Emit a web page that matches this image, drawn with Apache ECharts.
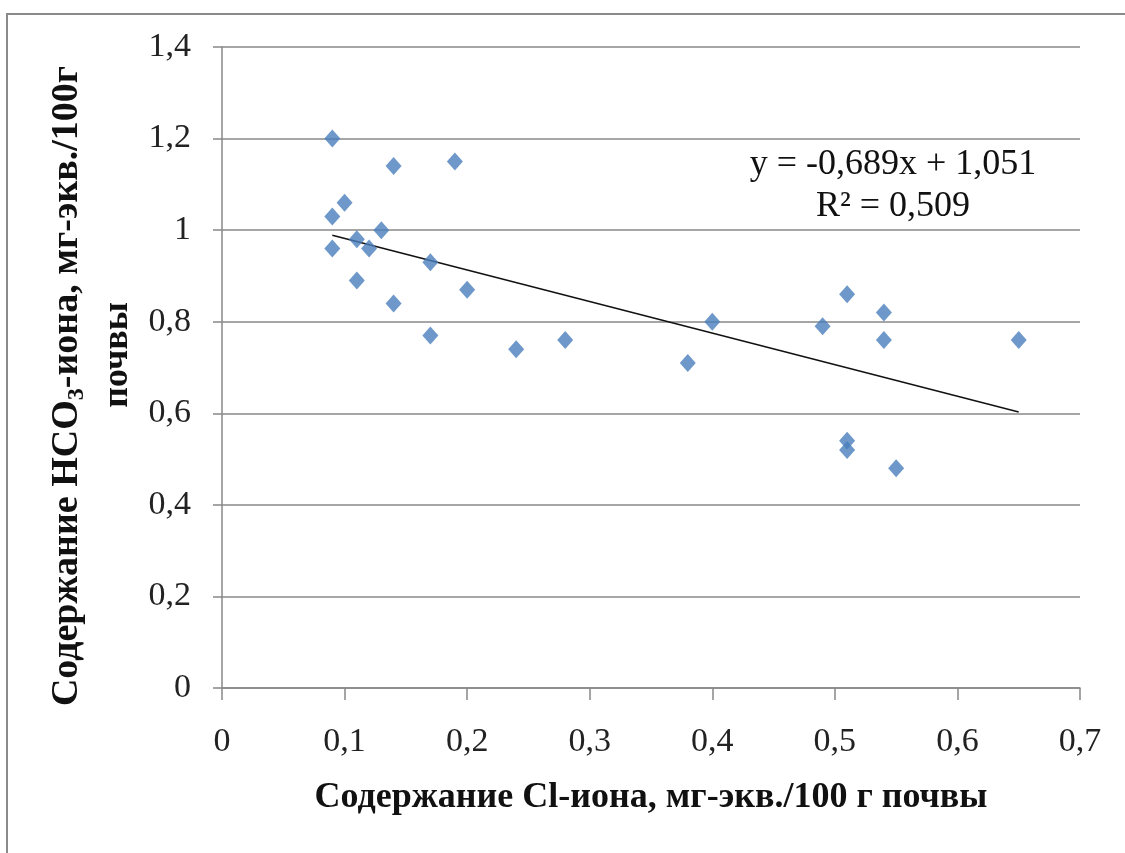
<!DOCTYPE html>
<html><head><meta charset="utf-8">
<script src="https://cdn.jsdelivr.net/npm/echarts@6/dist/echarts.min.js"></script>
<style>html,body{margin:0;padding:0;background:#fff}#c{width:1125px;height:853px}</style>
</head><body><div id="c"></div>
<script>
const xValues = [0.09,0.09,0.09,0.10,0.11,0.11,0.12,0.13,0.14,0.14,0.17,0.17,0.19,0.20,0.24,0.28,0.38,0.40,0.49,0.51,0.51,0.51,0.54,0.54,0.55,0.65];
const yValues = [1.20,1.03,0.96,1.06,0.98,0.89,0.96,1.00,1.14,0.84,0.93,0.77,1.15,0.87,0.74,0.76,0.71,0.80,0.79,0.86,0.54,0.52,0.82,0.76,0.48,0.76];
const trendX = [0.09, 0.65];
const trendY = [0.989, 0.603];
const xTickLabels = ['0','0,1','0,2','0,3','0,4','0,5','0,6','0,7'];
const yTickLabels = ['0','0,2','0,4','0,6','0,8','1','1,2','1,4'];
const xTitle = 'Содержание Cl-иона, мг-экв./100 г почвы';
const yTitleA = 'Содержание HCO';
const yTitleSub = '3';
const yTitleB = '-иона, мг-экв./100г';
const yTitleLine2 = 'почвы';
const equationText = 'y = -0,689x + 1,051';
const r2Text = 'R² = 0,509';

const serif = '"Liberation Serif", "Times New Roman", serif';
const chart = echarts.init(document.getElementById('c'), null, {renderer:'canvas'});
chart.setOption({
  animation:false,
  backgroundColor:'#fff',
  grid:{left:222,right:45,top:47,bottom:165},
  xAxis:{
    type:'value',min:0,max:0.7,interval:0.1,
    axisLine:{show:true,lineStyle:{color:'#888',width:1.5}},
    axisTick:{show:true,inside:false,length:12,lineStyle:{color:'#888',width:1.5}},
    splitLine:{show:false},
    axisLabel:{margin:37,fontFamily:serif,fontSize:34,color:'#222',
      formatter:(v)=>xTickLabels[Math.round(v*10)]},
    name:xTitle,nameLocation:'middle',nameGap:92,
    nameTextStyle:{fontFamily:serif,fontSize:36,fontWeight:'bold',color:'#111',verticalAlign:'top'}
  },
  yAxis:{
    type:'value',min:0,max:1.4,interval:0.2,
    axisLine:{show:true,lineStyle:{color:'#888',width:1.5}},
    axisTick:{show:true,inside:false,length:9,lineStyle:{color:'#888',width:1.5}},
    splitLine:{show:true,lineStyle:{color:'#888',width:1.5}},
    axisLabel:{margin:31,fontFamily:serif,fontSize:34,color:'#222',
      formatter:(v)=>yTickLabels[Math.round(v*5)]}
  },
  series:[
    {type:'scatter',symbol:'diamond',symbolSize:[16,18],
      itemStyle:{color:'#4a7ebb'},
      data:xValues.map((x,i)=>[x,yValues[i]]),z:3},
    {type:'line',symbol:'none',silent:true,
      lineStyle:{color:'#111',width:1.5},
      data:trendX.map((x,i)=>[x,trendY[i]]),z:2}
  ],
  graphic:[
    {type:'rect',shape:{x:7,y:14,width:1140,height:860},
      style:{fill:null,stroke:'#8a8a8a',lineWidth:2},silent:true},
    {type:'text',x:893,y:165,style:{text:equationText,font:'36px '+serif,fill:'#111',align:'center',verticalAlign:'middle'}},
    {type:'text',x:893,y:207,style:{text:r2Text,font:'36px '+serif,fill:'#111',align:'center',verticalAlign:'middle'}},
    {type:'text',x:67,y:386,rotation:Math.PI/2,
      style:{text:'{t|'+yTitleA+'}{s|'+yTitleSub+'}{t|'+yTitleB+'}',align:'center',verticalAlign:'middle',
        rich:{t:{font:'bold 38px '+serif,fill:'#111'},
              s:{font:'bold 24px '+serif,fill:'#111',padding:[19,0,0,0]}}}},
    {type:'text',x:118,y:355,rotation:Math.PI/2,
      style:{text:yTitleLine2,font:'bold 36px '+serif,fill:'#111',align:'center',verticalAlign:'middle'}}
  ]
});
</script></body></html>
